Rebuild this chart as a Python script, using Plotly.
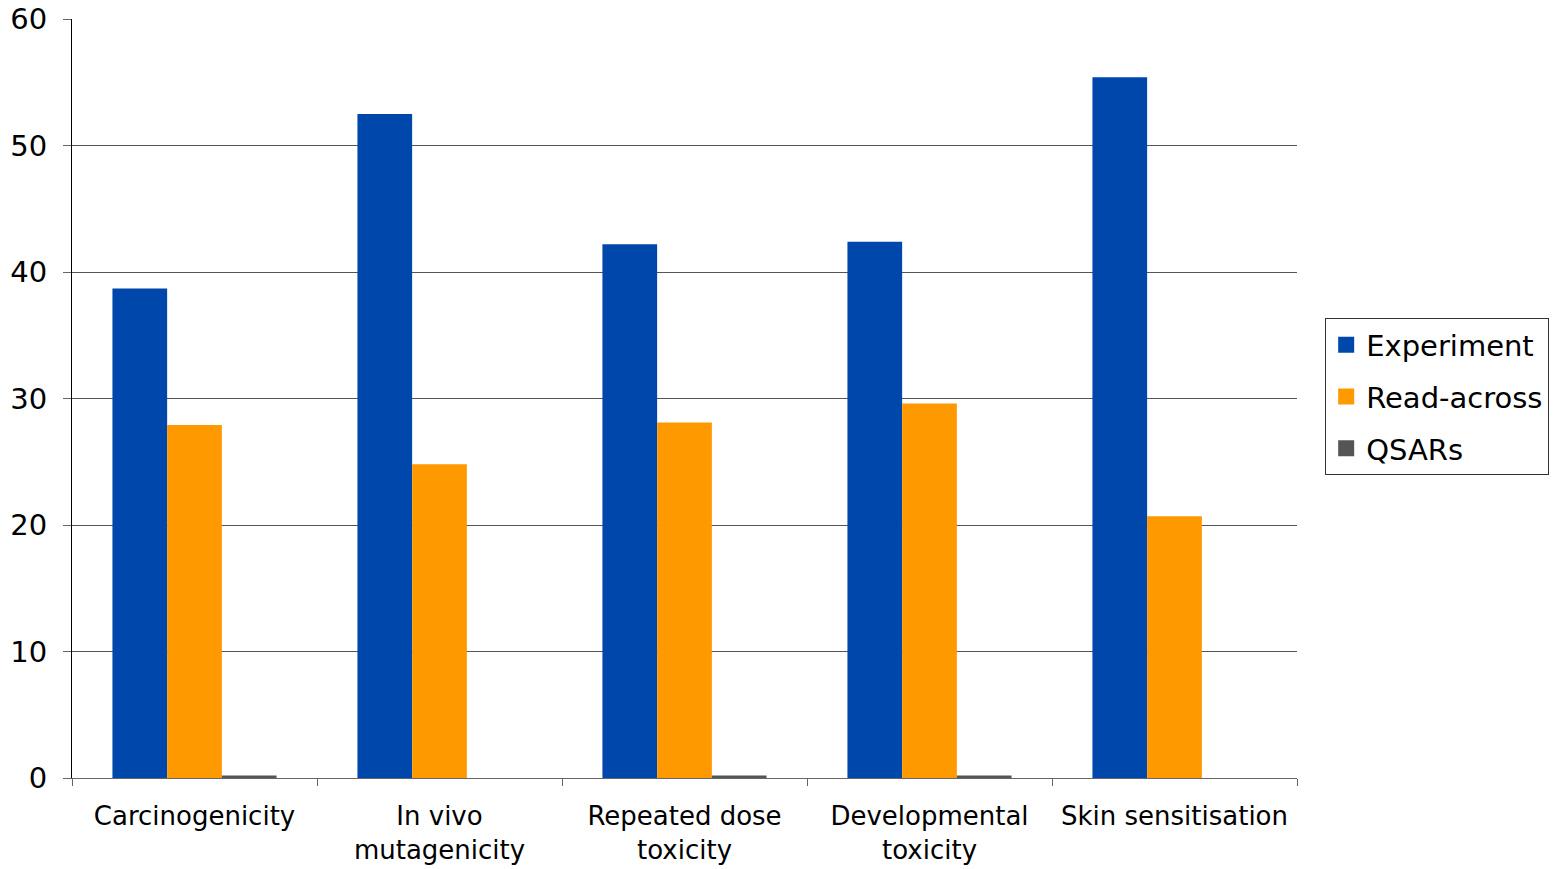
import plotly.graph_objects as go

categories = ["Carcinogenicity", "In vivo<br>mutagenicity", "Repeated dose<br>toxicity",
              "Developmental<br>toxicity", "Skin sensitisation"]
experiment = [38.7, 52.5, 42.2, 42.4, 55.4]
read_across = [27.9, 24.8, 28.1, 29.6, 20.7]
qsars = [0.2, 0.0, 0.2, 0.2, 0.0]
y_ticks = [0, 10, 20, 30, 40, 50, 60]
series_names = ["Experiment", "Read-across", "QSARs"]
series_colors = ["#0047AB", "#FF9900", "#555555"]

FONT = "DejaVu Sans"

fig = go.Figure()
for name, vals, col in zip(series_names, [experiment, read_across, qsars], series_colors):
    fig.add_bar(x=categories, y=vals, name=name, marker_color=col,
                marker_line_width=0, showlegend=False)
# legend entries with larger square symbols
for i, (name, col) in enumerate(zip(series_names, series_colors)):
    fig.add_scatter(x=[None], y=[None], mode="markers", name=name,
                    marker=dict(symbol="square", size=19, color=col),
                    legendgroup=f"g{i}")

fig.update_layout(
    width=1562, height=869,
    margin=dict(l=72, r=265, t=19, b=91),
    paper_bgcolor="white", plot_bgcolor="white",
    barmode="group", bargap=0.33, bargroupgap=0,
    font=dict(family=FONT, color="black"),
    legend=dict(x=1.023, y=0.502, xanchor="left", yanchor="middle",
                bordercolor="#333333", borderwidth=1,
                font=dict(size=29, family=FONT),
                tracegroupgap=11, itemwidth=30),
    showlegend=True,
)
fig.update_xaxes(
    tickson="boundaries", ticks="outside", ticklen=7, tickcolor="#666666",
    showline=True, linecolor="#666666", linewidth=1,
    tickfont=dict(size=26, family=FONT), showgrid=False,
    automargin=False, ticklabelstandoff=15,
)
fig.update_yaxes(
    range=[0, 60], tickvals=y_ticks, ticks="outside", ticklen=8, tickcolor="#666666",
    showline=True, linecolor="black", linewidth=1,
    gridcolor="#555555", gridwidth=1, zeroline=False,
    tickfont=dict(size=29, family=FONT),
    automargin=False, ticklabelstandoff=10,
)

fig.write_html("out.html")
